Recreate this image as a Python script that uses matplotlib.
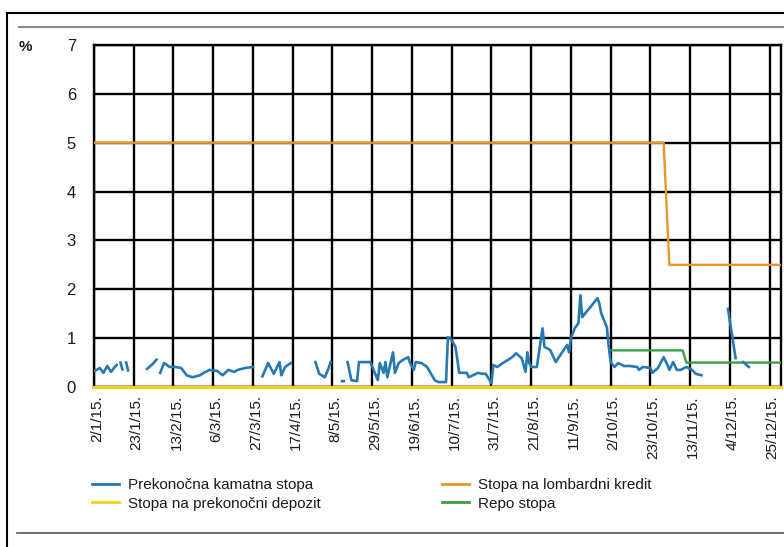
import pandas as pd
import numpy as np
import matplotlib
matplotlib.use('Agg')
import matplotlib.pyplot as plt
import matplotlib.transforms as mtransforms
from matplotlib.lines import Line2D

plt.rcParams['font.family'] = ['Liberation Sans', 'DejaVu Sans']

# overnight interbank rate (None = no trading / gap in the line)
overnight_dates = [
    '2015-01-02', '2015-01-04', '2015-01-05', '2015-01-07', '2015-01-09', '2015-01-11', '2015-01-13', '2015-01-14',
    '2015-01-15', '2015-01-16', '2015-01-17', '2015-01-18', '2015-01-19', '2015-01-20', '2015-01-25',
    '2015-01-30', '2015-02-02', '2015-02-04', '2015-02-05',
    '2015-02-06', '2015-02-08', '2015-02-11', '2015-02-14', '2015-02-17', '2015-02-20', '2015-02-23', '2015-02-27',
    '2015-03-01', '2015-03-04', '2015-03-08', '2015-03-11', '2015-03-14', '2015-03-17', '2015-03-19', '2015-03-23',
    '2015-03-27', '2015-03-30',
    '2015-04-01', '2015-04-04', '2015-04-07', '2015-04-10', '2015-04-11', '2015-04-13', '2015-04-16', '2015-04-22',
    '2015-04-29', '2015-05-01', '2015-05-04', '2015-05-06', '2015-05-07', '2015-05-10',
    '2015-05-13', '2015-05-14', '2015-05-15',
    '2015-05-16', '2015-05-18', '2015-05-21', '2015-05-22', '2015-05-28', '2015-06-01', '2015-06-02', '2015-06-04',
    '2015-06-05', '2015-06-06', '2015-06-09', '2015-06-10', '2015-06-12', '2015-06-14', '2015-06-17', '2015-06-18',
    '2015-06-20', '2015-06-21', '2015-06-24', '2015-06-27', '2015-07-01', '2015-07-03', '2015-07-07', '2015-07-08',
    '2015-07-10', '2015-07-12', '2015-07-14', '2015-07-18', '2015-07-19', '2015-07-24', '2015-07-26', '2015-07-28',
    '2015-07-31', '2015-08-01', '2015-08-03', '2015-08-06', '2015-08-11', '2015-08-13', '2015-08-16', '2015-08-18',
    '2015-08-19', '2015-08-20', '2015-08-21', '2015-08-24', '2015-08-27', '2015-08-28', '2015-08-31', '2015-09-03',
    '2015-09-06', '2015-09-09', '2015-09-10', '2015-09-11', '2015-09-13', '2015-09-15', '2015-09-16', '2015-09-17',
    '2015-09-19', '2015-09-22', '2015-09-25', '2015-09-26', '2015-09-27', '2015-09-30', '2015-10-01', '2015-10-02',
    '2015-10-04', '2015-10-06', '2015-10-09', '2015-10-12', '2015-10-16', '2015-10-17', '2015-10-19', '2015-10-23',
    '2015-10-24', '2015-10-27', '2015-10-30', '2015-11-01', '2015-11-02', '2015-11-04', '2015-11-06', '2015-11-08',
    '2015-11-11', '2015-11-14', '2015-11-16', '2015-11-19', '2015-11-25',
    '2015-12-03', '2015-12-07', '2015-12-09',
    '2015-12-11', '2015-12-14',
]
overnight_values = [
    0.33, 0.36, 0.39, 0.29, 0.43, 0.31, 0.41, 0.45,
    None, 0.50, 0.36, None, 0.50, 0.34, None,
    0.37, 0.47, 0.56, None,
    0.29, 0.49, 0.41, 0.41, 0.39, 0.24, 0.20, 0.24,
    0.29, 0.35, 0.33, 0.24, 0.35, 0.31, 0.35, 0.39,
    0.41, None,
    0.22, 0.49, 0.27, 0.51, 0.24, 0.41, 0.49, None,
    0.51, 0.27, 0.20, 0.39, 0.51, None,
    0.12, 0.12, None,
    0.51, 0.14, 0.12, 0.51, 0.51, 0.14, 0.49, 0.29,
    0.51, 0.20, 0.71, 0.29, 0.49, 0.55, 0.61, 0.49,
    0.35, 0.51, 0.49, 0.41, 0.14, 0.10, 0.10, 1.02,
    0.96, 0.82, 0.29, 0.29, 0.20, 0.29, 0.27, 0.27,
    0.08, 0.45, 0.41, 0.49, 0.61, 0.69, 0.59, 0.31,
    0.71, 0.49, 0.41, 0.41, 1.20, 0.82, 0.76, 0.51,
    0.69, 0.86, 0.71, 1.00, 1.20, 1.31, 1.88, 1.43,
    1.53, 1.67, 1.82, 1.71, 1.51, 1.22, 0.82, 0.51,
    0.41, 0.49, 0.43, 0.43, 0.41, 0.35, 0.41, 0.39,
    0.29, 0.39, 0.61, 0.45, 0.35, 0.51, 0.35, 0.35,
    0.41, 0.35, 0.27, 0.24, None,
    1.60, 0.59, None,
    0.51, 0.41,
]

# policy rates (step changes)
lombard_dates = ['2015-01-02', '2015-10-30', '2015-11-02', '2015-12-31']
lombard_values = [5.0, 5.0, 2.5, 2.5]

deposit_dates = ['2015-01-02', '2015-12-31']
deposit_values = [0.0, 0.0]

repo_dates = ['2015-10-02', '2015-11-09', '2015-11-11', '2015-12-31']
repo_values = [0.75, 0.75, 0.5, 0.5]

tick_dates = ['2015-01-02', '2015-01-23', '2015-02-13', '2015-03-06', '2015-03-27', '2015-04-17',
              '2015-05-08', '2015-05-29', '2015-06-19', '2015-07-10', '2015-07-31', '2015-08-21',
              '2015-09-11', '2015-10-02', '2015-10-23', '2015-11-13', '2015-12-04', '2015-12-25']
tick_labels = ['2/1/15.', '23/1/15.', '13/2/15.', '6/3/15.', '27/3/15.', '17/4/15.', '8/5/15.',
               '29/5/15.', '19/6/15.', '10/7/15.', '31/7/15.', '21/8/15.', '11/9/15.', '2/10/15.',
               '23/10/15.', '13/11/15.', '4/12/15.', '25/12/15.']

labels = ['Prekonočna kamatna stopa', 'Stopa na prekonočni depozit',
          'Stopa na lombardni kredit', 'Repo stopa']
c_blue, c_yellow, c_orange, c_green = '#2878b4', '#f3d21a', '#e8962c', '#3a9f47'
txt = '#1a1a1a'

W, H = 784, 547
fig = plt.figure(figsize=(W / 100, H / 100), dpi=100)
ax = fig.add_axes([94 / W, 1 - 387 / H, (781 - 94) / W, (387 - 45) / H])

on = pd.Series([np.nan if v is None else v for v in overnight_values],
               index=pd.to_datetime(overnight_dates))

ax.plot(pd.to_datetime(lombard_dates), lombard_values, color=c_orange, lw=1.7, zorder=3)
ax.plot(pd.to_datetime(repo_dates), repo_values, color=c_green, lw=1.7, zorder=3)
ax.plot(on.index, on.values, color=c_blue, lw=1.9, zorder=4)
ax.plot(pd.to_datetime(deposit_dates), deposit_values, color=c_yellow, lw=2.4, zorder=5, clip_on=False)

ax.set_xlim(pd.Timestamp('2015-01-02'), pd.Timestamp('2015-12-31'))
ax.set_ylim(0, 7)
ax.set_yticks(range(8))
ax.set_xticks(pd.to_datetime(tick_dates))
ax.set_xticklabels(tick_labels, rotation=90, va='top', ha='center')
ax.tick_params(axis='both', length=0, labelsize=11, colors=txt)
ax.tick_params(axis='y', pad=13, labelsize=12)
ax.tick_params(axis='x', pad=6)
shift = mtransforms.ScaledTranslation(3 / 100, 0, fig.dpi_scale_trans)
for lab in ax.get_xticklabels():
    lab.set_transform(lab.get_transform() + shift)
ax.grid(True, color='black', lw=1.7)
for s in ax.spines.values():
    s.set_color('black')
    s.set_linewidth(1.7)

fig.text(25 / W, 1 - 47 / H, '%', fontsize=11, color=txt, ha='center', va='center', fontweight='bold')

h = [Line2D([], [], color=c, lw=2) for c in (c_blue, c_yellow, c_orange, c_green)]
leg_kw = dict(loc='upper left', frameon=False, fontsize=11, handlelength=1.75,
              handletextpad=0.6, labelspacing=0.3, borderpad=0, borderaxespad=0)
fig.legend(h[:2], labels[:2], bbox_to_anchor=(92 / W, 1 - 478 / H), **leg_kw)
fig.legend(h[2:], labels[2:], bbox_to_anchor=(442 / W, 1 - 478 / H), **leg_kw)
for leg in fig.legends:
    for t in leg.get_texts():
        t.set_color(txt)

# outer frame and rules
fig.add_artist(Line2D([7 / W, 1], [1 - 13 / H] * 2, color='black', lw=1.5))
fig.add_artist(Line2D([7 / W, 7 / W], [0, 1 - 13 / H], color='black', lw=1.5))
fig.add_artist(Line2D([19 / W, 1], [1 - 27 / H] * 2, color='#8a8a8a', lw=1.5))
fig.add_artist(Line2D([17 / W, 1], [1 - 533 / H] * 2, color='#555555', lw=1.2))

fig.savefig('out.png', dpi=100)
